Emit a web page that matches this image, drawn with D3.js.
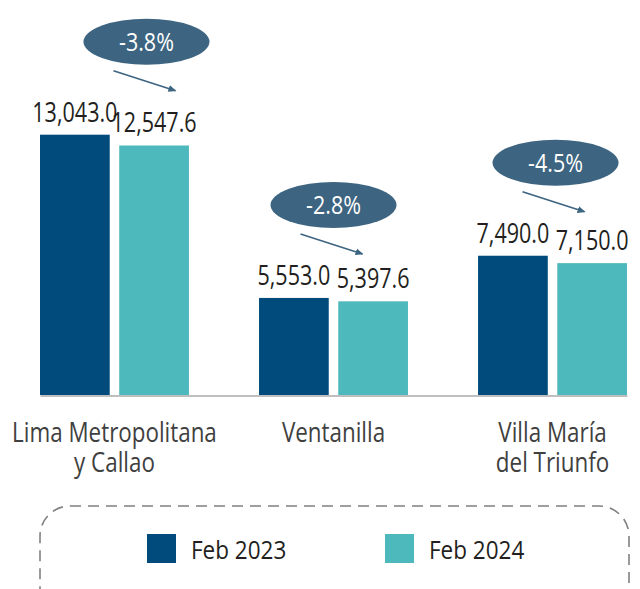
<!DOCTYPE html>
<html>
<head>
<meta charset="utf-8">
<script src="https://cdn.jsdelivr.net/npm/d3@7"></script>
<style>
  html, body { margin: 0; padding: 0; background: #ffffff; }
  svg { display: block; }
  text { font-family: 'Open Sans', 'Liberation Sans', Arial, sans-serif; }
</style>
</head>
<body>
<svg id="chart" width="640" height="589"></svg>
<script>
// ---- data ----
const categories = ["Lima Metropolitana y Callao", "Ventanilla", "Villa María del Triunfo"];
const categoryLines = [["Lima Metropolitana", "y Callao"], ["Ventanilla"], ["Villa María", "del Triunfo"]];
const seriesNames = ["Feb 2023", "Feb 2024"];
const feb2023 = [13043.0, 5553.0, 7490.0];
const feb2024 = [12547.6, 5397.6, 7150.0];
const seriesColors = ["#004a7c", "#4db9bc"];

// ---- layout constants ----
const baseY = 395;
const badgeShift = [32, 0, 3];

const svg = d3.select("#chart");

const x0 = d3.scaleBand().domain(categories).range([40, 627]).paddingInner(0.32).paddingOuter(0);
const x1 = d3.scaleBand().domain(seriesNames).range([0, x0.bandwidth()]).paddingInner(0.12).paddingOuter(0);
const y = d3.scaleLinear().domain([1100, 13043]).range([baseY, 134.7]);

const rows = categories.map((c, i) => ({
  cat: c, i,
  vals: [{s: seriesNames[0], v: feb2023[i]}, {s: seriesNames[1], v: feb2024[i]}]
}));

const color = d3.scaleOrdinal().domain(seriesNames).range(seriesColors);
const fmtVal = d3.format(",.1f");
const fmtPct = v => d3.format(".1f")(v).replace("\u2212", "-") + "%";

// condensed text helper: position via transform and squeeze horizontally
function placeText(sel, fx, fy, sx) {
  sel.attr("x", 0).attr("y", 0)
     .attr("transform", (d, i) => `translate(${fx(d, i)},${fy(d, i)}) scale(${sx},1)`);
}

// bars
const groups = svg.append("g").selectAll("g.grp").data(rows).join("g")
  .attr("class", "grp")
  .attr("transform", d => `translate(${x0(d.cat)},0)`);

groups.selectAll("rect").data(d => d.vals).join("rect")
  .attr("x", d => x1(d.s))
  .attr("y", d => y(d.v))
  .attr("width", x1.bandwidth())
  .attr("height", d => baseY - y(d.v))
  .attr("fill", d => color(d.s));

groups.selectAll("text.val").data(d => d.vals).join("text")
  .attr("class", "val")
  .attr("text-anchor", "middle")
  .attr("font-size", 28)
  .attr("fill", "#231f20")
  .text(d => fmtVal(d.v))
  .call(placeText, d => x1(d.s) + x1.bandwidth() / 2, d => y(d.v) - 13, 0.77);

// axis
const axis = svg.append("g")
  .attr("transform", `translate(0,${baseY + 0.5})`)
  .call(d3.axisBottom(x0).tickSize(0).tickSizeOuter(0).tickFormat(""));
axis.select(".domain").attr("stroke", "#bfbfbf").attr("stroke-width", 2);

// category labels
const catText = svg.append("g").selectAll("text").data(rows).join("text")
  .attr("text-anchor", "middle")
  .attr("font-size", 28)
  .attr("fill", "#404040")
  .call(placeText, d => x0(d.cat) + x0.bandwidth() / 2, () => 441.5, 0.8);
catText.selectAll("tspan").data(d => categoryLines[d.i]).join("tspan")
  .attr("x", 0)
  .attr("dy", (d, j) => j === 0 ? 0 : 31)
  .text(d => d);

// change badges
const defs = svg.append("defs");
defs.append("marker")
  .attr("id", "arr")
  .attr("viewBox", "0 -4 8 8")
  .attr("refX", 7).attr("refY", 0)
  .attr("markerWidth", 8).attr("markerHeight", 8)
  .attr("markerUnits", "userSpaceOnUse")
  .attr("orient", "auto")
  .append("path").attr("d", "M0,-3.5L8,0L0,3.5Z").attr("fill", "#3d6480");

const badges = svg.append("g").selectAll("g").data(rows).join("g")
  .attr("transform", d => {
    const cx = x0(d.cat) + x0.bandwidth() / 2 + badgeShift[d.i];
    const cy = y(feb2023[d.i]) - 93;
    return `translate(${cx},${cy})`;
  });
badges.append("ellipse").attr("rx", 63).attr("ry", 23).attr("fill", "#3d6480");
badges.append("text")
  .attr("text-anchor", "middle")
  .attr("font-size", 25)
  .attr("fill", "#ffffff")
  .text(d => fmtPct((feb2024[d.i] / feb2023[d.i] - 1) * 100))
  .call(placeText, () => 0, () => 9, 0.86);
badges.append("line")
  .attr("x1", -33).attr("y1", 29)
  .attr("x2", 29).attr("y2", 49)
  .attr("stroke", "#3d6480").attr("stroke-width", 1.6)
  .attr("marker-end", "url(#arr)");

// legend
svg.append("rect")
  .attr("x", 40).attr("y", 506)
  .attr("width", 589).attr("height", 130)
  .attr("rx", 30).attr("ry", 30)
  .attr("fill", "none")
  .attr("stroke", "#808080")
  .attr("stroke-width", 1.6)
  .attr("stroke-dasharray", "11,7");

const legendX = [147, 385];
const leg = svg.append("g").selectAll("g").data(seriesNames).join("g")
  .attr("transform", (d, i) => `translate(${legendX[i]},534)`);
leg.append("rect").attr("width", 29).attr("height", 29).attr("fill", d => color(d));
leg.append("text")
  .attr("font-size", 25).attr("fill", "#231f20").text(d => d)
  .call(placeText, () => 44, () => 24.5, 0.9);
</script>
</body>
</html>
